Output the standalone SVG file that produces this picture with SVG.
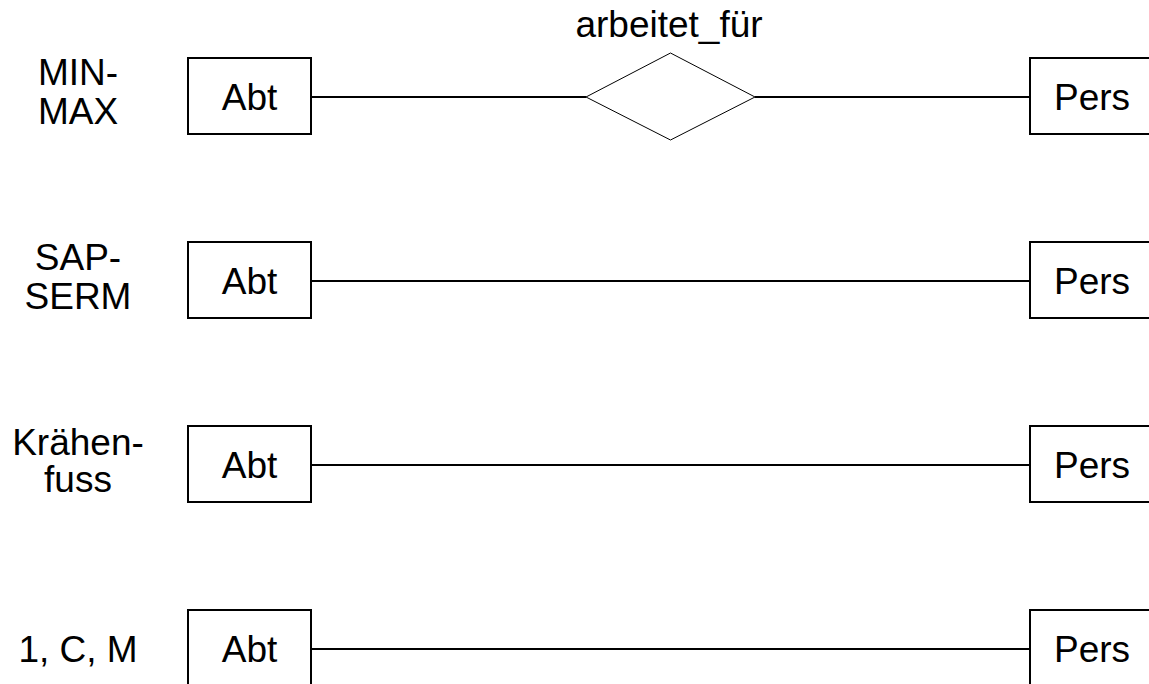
<svg xmlns="http://www.w3.org/2000/svg" width="1149" height="684" viewBox="0 0 1149 684">
<style>
text{font-family:"Liberation Sans",Arial,sans-serif;font-size:37px;fill:#000;text-anchor:middle}
.box{fill:#fff;stroke:#000;stroke-width:2}
.conn{stroke:#000;stroke-width:2;fill:none}
.rel{fill:#fff;stroke:#000;stroke-width:1}
</style>
<rect width="1149" height="684" fill="#fff"/>
<g id="connectors">
<line class="conn" x1="311" y1="97" x2="586" y2="97"/>
<line class="conn" x1="755" y1="97" x2="1030" y2="97"/>
<line class="conn" x1="311" y1="281" x2="1030" y2="281"/>
<line class="conn" x1="311" y1="465" x2="1030" y2="465"/>
<line class="conn" x1="311" y1="649" x2="1030" y2="649"/>
</g>
<g id="label-minmax"><text x="78" y="85">MIN-</text><text x="78" y="124">MAX</text></g>
<g id="label-sapserm"><text x="78" y="270">SAP-</text><text x="78" y="309">SERM</text></g>
<g id="label-kraehenfuss"><text x="78" y="455">Krähen-</text><text x="78" y="492">fuss</text></g>
<g id="label-1cm"><text x="78" y="662">1, C, M</text></g>
<g id="abt1"><rect class="box" x="188" y="58" width="123" height="76"/><text x="249.5" y="110">Abt</text></g>
<g id="abt2"><rect class="box" x="188" y="242" width="123" height="76"/><text x="249.5" y="294">Abt</text></g>
<g id="abt3"><rect class="box" x="188" y="426" width="123" height="76"/><text x="249.5" y="478">Abt</text></g>
<g id="abt4"><rect class="box" x="188" y="610" width="123" height="76"/><text x="249.5" y="662">Abt</text></g>
<g id="pers1"><rect class="box" x="1030" y="58" width="125" height="76"/><text x="1092" y="110">Pers</text></g>
<g id="pers2"><rect class="box" x="1030" y="242" width="125" height="76"/><text x="1092" y="294">Pers</text></g>
<g id="pers3"><rect class="box" x="1030" y="426" width="125" height="76"/><text x="1092" y="478">Pers</text></g>
<g id="pers4"><rect class="box" x="1030" y="610" width="125" height="76"/><text x="1092" y="662">Pers</text></g>
<g id="arbeitet_fuer"><polygon class="rel" points="586,97 670.5,53 755,97 670.5,140"/><text x="669" y="37">arbeitet_für</text></g>
</svg>
